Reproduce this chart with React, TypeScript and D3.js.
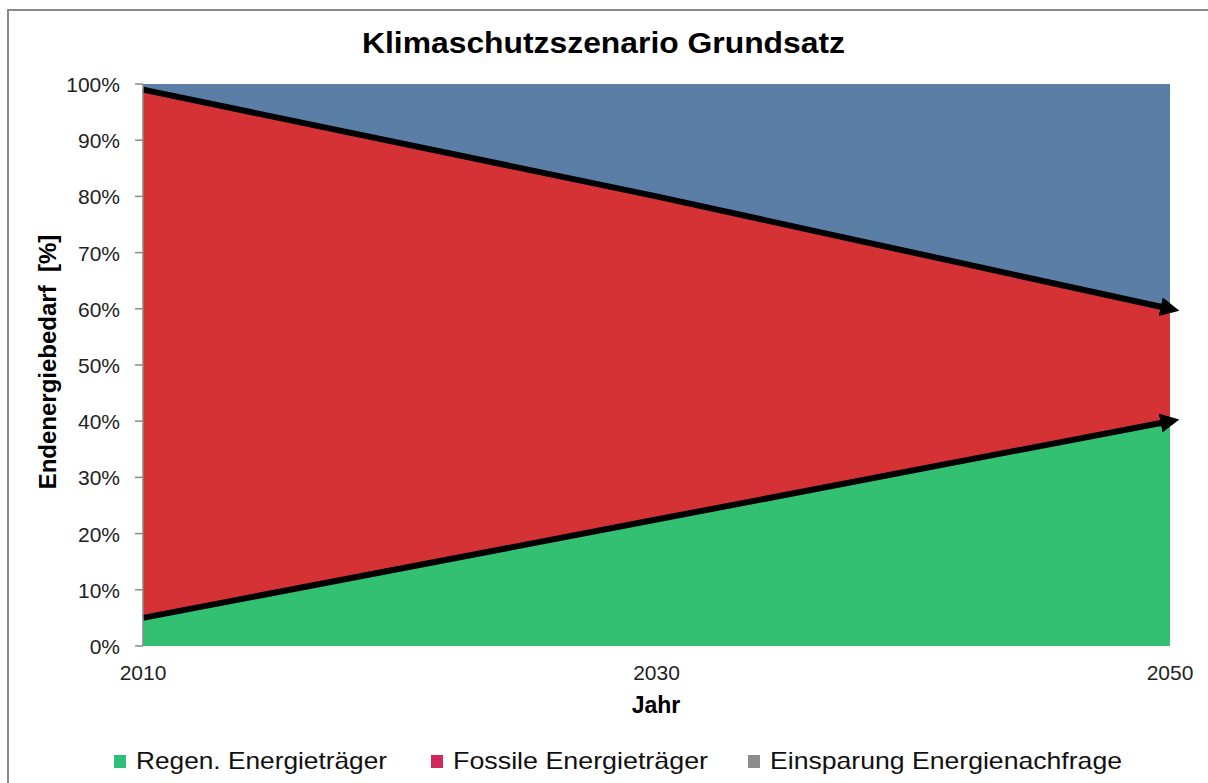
import React from "react";
import * as d3 from "d3";

const years = [2010, 2030, 2050];
const regen = [5, 22.5, 40];
const fossil = [94, 57.5, 20];
const savings = [1, 20, 40];
const yTicks = [0, 10, 20, 30, 40, 50, 60, 70, 80, 90, 100];
const seriesNames = ["Regen. Energieträger", "Fossile Energieträger", "Einsparung Energienachfrage"];
const areaColors = ["#33c073", "#d43235", "#5b7ea6"];
const legendColors = ["#2fbf78", "#d2275a", "#8c8c8c"];

const W = 1208, H = 783;
const left = 143, right = 1170, top = 84, bottom = 646;

export default function App() {
  const x = d3.scaleLinear().domain([2010, 2050]).range([left, right]);
  const y = d3.scaleLinear().domain([0, 100]).range([bottom, top]);
  const rows = years.map((yr, i) => ({ yr, regen: regen[i], fossil: fossil[i], savings: savings[i] }));
  const stack = d3.stack<any>().keys(["regen", "fossil", "savings"])(rows);
  const area = d3.area<any>().x((d) => x(d.data.yr)).y0((d) => y(d[0])).y1((d) => y(d[1]));
  const line = d3.line<any>().x((d) => x(d.data.yr)).y((d) => y(d[1]));
  const legendX = [114, 431, 748];
  const legendLen = [251, 255, 352];
  return (
    <svg width={W} height={H} style={{ position: "absolute", left: 0, top: 0, fontFamily: "Liberation Sans, Arial, sans-serif" }}>
      <defs>
        <marker id="arr" viewBox="0 0 10 10" refX="5" refY="5" markerWidth="3.2" markerHeight="3.2" orient="auto" markerUnits="strokeWidth">
          <path d="M0,0 L10,5 L0,10 z" fill="#000" />
        </marker>
      </defs>
      <rect x={0} y={0} width={W} height={H} fill="#fff" />
      <rect x={8} y={10} width={1230} height={800} fill="#fff" stroke="#8a8a8a" strokeWidth={2} />
      <text x={362} y={53} fontSize={29} fontWeight="bold" fill="#000" textLength={483} lengthAdjust="spacingAndGlyphs">Klimaschutzszenario Grundsatz</text>
      {stack.map((s, i) => (
        <path key={i} d={area(s) || ""} fill={areaColors[i]} />
      ))}
      <path d={line(stack[0]) || ""} fill="none" stroke="#000" strokeWidth={6} markerEnd="url(#arr)" />
      <path d={line(stack[1]) || ""} fill="none" stroke="#000" strokeWidth={6} markerEnd="url(#arr)" />
      <line x1={left} x2={left} y1={top} y2={bottom} stroke="#888" strokeWidth={1.5} />
      {yTicks.map((t) => (
        <g key={t}>
          <line x1={left - 8} x2={left} y1={y(t)} y2={y(t)} stroke="#888" strokeWidth={1.5} />
          <text x={120} y={y(t) + 8} textAnchor="end" fontSize={21} fill="#222">{t}%</text>
        </g>
      ))}
      {years.map((yr) => (
        <text key={yr} x={x(yr)} y={680} textAnchor="middle" fontSize={21} fill="#222">{yr}</text>
      ))}
      <text x={656} y={713} textAnchor="middle" fontSize={23} fontWeight="bold" fill="#000">Jahr</text>
      <text transform={`translate(56,362) rotate(-90)`} textAnchor="middle" fontSize={24} fontWeight="bold" fill="#000">{"Endenergiebedarf\u00a0\u00a0[%]"}</text>
      {seriesNames.map((n, i) => (
        <g key={n}>
          <rect x={legendX[i]} y={755} width={12} height={13} fill={legendColors[i]} />
          <text x={legendX[i] + 22} y={769} fontSize={24} fill="#111" textLength={legendLen[i]} lengthAdjust="spacingAndGlyphs">{n}</text>
        </g>
      ))}
    </svg>
  );
}
